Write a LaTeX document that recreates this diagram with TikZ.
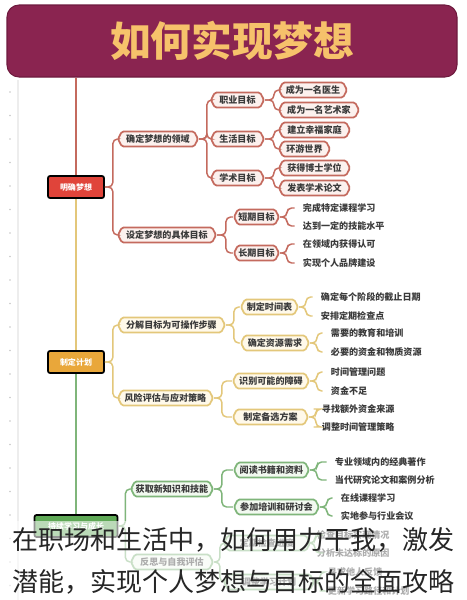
\documentclass[tikz,border=0pt]{standalone}
\usepackage{fontspec}
\setmainfont{Noto Sans CJK SC}
\usetikzlibrary{shapes.symbols}
\definecolor{titlebg}{HTML}{8A2450}
\definecolor{titleln}{HTML}{6E1A3E}
\definecolor{titletx}{HTML}{F6C26B}
\definecolor{redL}{HTML}{C46A5E}
\definecolor{redF}{HTML}{FCF1EE}
\definecolor{redN}{HTML}{E0443A}
\definecolor{yelL}{HTML}{E3C77A}
\definecolor{yelF}{HTML}{FFF9EA}
\definecolor{yelN}{HTML}{E9A73A}
\definecolor{grnL}{HTML}{7FB57A}
\definecolor{grnF}{HTML}{F2F9F0}
\definecolor{grnN}{HTML}{5FA956}
\definecolor{txt}{HTML}{3A3A3A}
\definecolor{gut}{HTML}{EDEDED}
\definecolor{dot}{HTML}{C8C8C8}
\begin{document}
\begin{tikzpicture}[x=0.75pt,y=-0.75pt,
  wd/.style={minimum width=0.75*#1pt},
  spine/.style={draw=black, line width=1.3pt, rounded corners=1.5pt, minimum height=16.5pt, inner sep=0pt, text=white, font=\bfseries\fontsize{6pt}{7pt}\selectfont},
  hexbox/.style={signal, signal to=east and west, signal pointer angle=125, rounded corners=1.2pt, line width=1.3pt, minimum height=11.25pt, inner sep=0pt, text=txt, font=\bfseries\fontsize{6.8pt}{7pt}\selectfont},
  rbox/.style={hexbox, draw=redL, fill=redF},
  ybox/.style={hexbox, draw=yelL, fill=yelF},
  gbox/.style={hexbox, draw=grnL, fill=grnF},
  leaf/.style={anchor=west, inner sep=0.5pt, text=txt, font=\bfseries\fontsize{6.8pt}{7pt}\selectfont},
  con/.style={line width=1.1pt, rounded corners=3.5pt},
  rcon/.style={con, draw=redL},
  ycon/.style={con, draw=yelL},
  gcon/.style={con, draw=grnL},
  lcon/.style={shorten >=5.5pt},
]
\useasboundingbox (0,0) rectangle (467,600);
\fill[white] (0,0) rectangle (467,600);
% gutter
\draw[gut, line width=0.8pt] (18,80) -- (18,600);
\foreach \k in {0,...,21} \fill[dot] (10,92+23.5*\k) circle (0.6pt);
% title
\node[draw=titleln, line width=0.8pt, fill=titlebg, rounded corners=9pt, minimum width=337.5pt, minimum height=54pt, inner sep=0pt] (title) at (232,41) {};
\node[text=titletx, font=\bfseries\fontsize{30.5pt}{32pt}\selectfont] (titletext) at (232,41) {如何实现梦想};
% spine nodes
\node[spine, fill=redN, wd=56] (n1) at (76,187) {明确梦想};
\node[spine, fill=yelN, wd=56] (n2) at (76,362) {制定计划};
\node[spine, fill=grnN, wd=83] (n3) at (76,526) {持续学习与成长};
\draw[redL, line width=1.6pt] (title.south -| n1.north) -- (n1.north);
\draw[yelL, line width=1.6pt] (n1.south) -- (n2.north);
\draw[grnL, line width=1.6pt] (n2.south) -- (n3.north);

% ---------------- red branch
\node[rbox, wd=80, anchor=west] (a1) at (117,139) {确定梦想的领域};
\node[rbox, wd=98, anchor=west] (a2) at (117,235) {设定梦想的具体目标};
\foreach \c in {a1,a2} \draw[rcon] (n1.east) -- ++(8,0) |- (\c.west);

\node[rbox, wd=53, anchor=west] (b1) at (210,100) {职业目标};
\node[rbox, wd=53, anchor=west] (b2) at (210,139) {生活目标};
\node[rbox, wd=53, anchor=west] (b3) at (210,178) {学术目标};
\foreach \c in {b1,b2,b3} \draw[rcon] (a1.east) -- ++(8,0) |- (\c.west);

\node[rbox, wd=68, anchor=west] (c1) at (278,90) {成为一名医生};
\node[rbox, wd=80, anchor=west] (c2) at (278,110) {成为一名艺术家};
\node[rbox, wd=71, anchor=west] (c3) at (278,130) {建立幸福家庭};
\node[rbox, wd=51, anchor=west] (c4) at (278,149) {环游世界};
\node[rbox, wd=71, anchor=west] (c5) at (278,168) {获得博士学位};
\node[rbox, wd=71, anchor=west] (c6) at (278,188) {发表学术论文};
\foreach \c in {c1,c2} \draw[rcon] (b1.east) -- ++(9,0) |- (\c.west);
\foreach \c in {c3,c4} \draw[rcon] (b2.east) -- ++(9,0) |- (\c.west);
\foreach \c in {c5,c6} \draw[rcon] (b3.east) -- ++(9,0) |- (\c.west);

\node[rbox, wd=45, anchor=west] (b4) at (233,217) {短期目标};
\node[rbox, wd=45, anchor=west] (b5) at (233,253) {长期目标};
\foreach \c in {b4,b5} \draw[rcon] (a2.east) -- ++(9,0) |- (\c.west);

\node[leaf] (l1) at (302,208) {完成特定课程学习};
\node[leaf] (l2) at (302,226) {达到一定的技能水平};
\node[leaf] (l3) at (302,244) {在领域内获得认可};
\node[leaf] (l4) at (302,263) {实现个人品牌建设};
\foreach \c in {l1,l2} \draw[rcon, lcon] (b4.east) -- ++(7,0) |- (\c.west);
\foreach \c in {l3,l4} \draw[rcon, lcon] (b5.east) -- ++(7,0) |- (\c.west);

% ---------------- yellow branch
\node[ybox, wd=107, anchor=west] (a3) at (117,325) {分解目标为可操作步骤};
\node[ybox, wd=95, anchor=west] (a4) at (117,398) {风险评估与应对策略};
\foreach \c in {a3,a4} \draw[ycon] (n2.east) -- ++(8,0) |- (\c.west);

\node[ybox, wd=57, anchor=west] (b6) at (240,307) {制定时间表};
\node[ybox, wd=68, anchor=west] (b7) at (240,343) {确定资源需求};
\foreach \c in {b6,b7} \draw[ycon] (a3.east) -- ++(8,0) |- (\c.west);
\node[ybox, wd=76, anchor=west] (b8) at (232,381) {识别可能的障碍};
\node[ybox, wd=75, anchor=west] (b9) at (232,417) {制定备选方案};
\foreach \c in {b8,b9} \draw[ycon] (a4.east) -- ++(8,0) |- (\c.west);

\node[leaf] (m1) at (320,297) {确定每个阶段的截止日期};
\node[leaf] (m2) at (320,316) {安排定期检查点};
\node[leaf] (m3) at (330,333) {需要的教育和培训};
\node[leaf] (m4) at (330,352) {必要的资金和物质资源};
\node[leaf] (m5) at (330,372) {时间管理问题};
\node[leaf] (m6) at (330,391) {资金不足};
\node[leaf] (m7) at (321,409) {寻找额外资金来源};
\node[leaf] (m8) at (321,427) {调整时间管理策略};
\foreach \c in {m1,m2} \draw[ycon, lcon] (b6.east) -- ++(7,0) |- (\c.west);
\foreach \c in {m3,m4} \draw[ycon, lcon] (b7.east) -- ++(7,0) |- (\c.west);
\foreach \c in {m5,m6} \draw[ycon, lcon] (b8.east) -- ++(7,0) |- (\c.west);
\foreach \c in {m7,m8} \draw[ycon, lcon] (b9.east) -- ++(7,0) |- (\c.west);

% ---------------- green branch
\node[gbox, wd=82, anchor=west] (a5) at (130,489) {获取新知识和技能};
\node[gbox, wd=82, anchor=west] (a6) at (130,562) {反思与自我评估};
\foreach \c in {a5,a6} \draw[gcon] (n3.east) -- ++(7,0) |- (\c.west);

\node[gbox, wd=75, anchor=west] (b10) at (233,470) {阅读书籍和资料};
\node[gbox, wd=85, anchor=west] (b11) at (233,507) {参加培训和研讨会};
\foreach \c in {b10,b11} \draw[gcon] (a5.east) -- ++(8,0) |- (\c.west);
\node[gbox, wd=86, anchor=west] (b12) at (223,543) {定期检查进度};
\node[gbox, wd=90, anchor=west] (b13) at (223,582) {调整学习计划};
\foreach \c in {b12,b13} \draw[gcon] (a6.east) -- ++(6,0) |- (\c.west);

\node[leaf] (g1) at (334,462) {专业领域内的经典著作};
\node[leaf] (g2) at (334,480) {当代研究论文和案例分析};
\node[leaf] (g3) at (340,498) {在线课程学习};
\node[leaf] (g4) at (340,516) {实地参与行业会议};
\node[leaf] (g5) at (316,535) {检查目标实现情况};
\node[leaf] (g6) at (316,553) {分析未达标的原因};
\node[leaf] (g7) at (327,572) {寻求他人反馈};
\node[leaf] (g8) at (327,591) {更新学习路径和计划};
\foreach \c in {g1,g2} \draw[gcon, lcon] (b10.east) -- ++(7,0) |- (\c.west);
\foreach \c in {g3,g4} \draw[gcon, lcon] (b11.east) -- ++(7,0) |- (\c.west);
\foreach \c in {g5,g6} \draw[gcon, lcon] (b12.east) -- ++(4,0) |- (\c.west);
\foreach \c in {g7,g8} \draw[gcon, lcon] (b13.east) -- ++(5,0) |- (\c.west);

% fade overlay and caption
\fill[white, opacity=0.58] (0,521) rectangle (467,600);
\node[anchor=west, inner sep=0pt, text=black!85, font=\fontsize{19.5pt}{21pt}\selectfont] (cap1) at (12,540) {在职场和生活中，如何用力干我，激发};
\node[anchor=west, inner sep=0pt, text=black!85, font=\fontsize{19.5pt}{21pt}\selectfont] (cap2) at (12,582) {潜能，实现个人梦想与目标的全面攻略};
\end{tikzpicture}
\end{document}
